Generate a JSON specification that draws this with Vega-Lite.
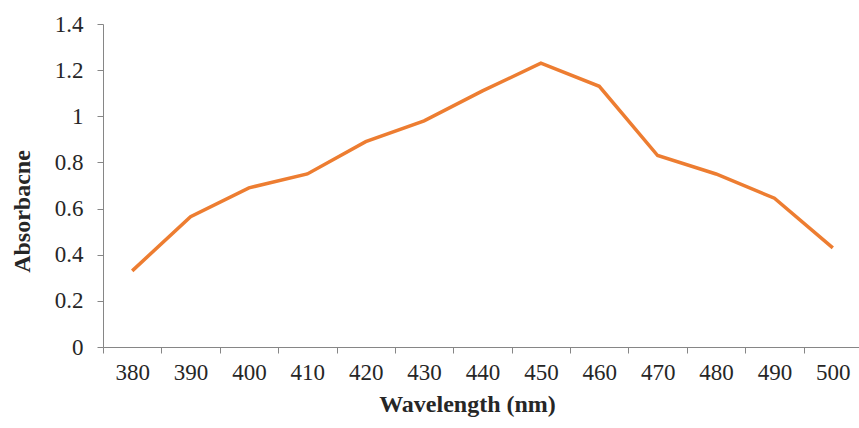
{
  "$schema": "https://vega.github.io/schema/vega-lite/v6.json",
  "autosize": "none",
  "width": 759,
  "height": 323,
  "padding": {"left": 103, "top": 24, "right": 0, "bottom": 81},
  "background": "white",
  "config": {"view": {"stroke": null}},
  "data": {"values": [
    {"wavelength": "380", "absorbance": 0.33},
    {"wavelength": "390", "absorbance": 0.565},
    {"wavelength": "400", "absorbance": 0.69},
    {"wavelength": "410", "absorbance": 0.75},
    {"wavelength": "420", "absorbance": 0.89},
    {"wavelength": "430", "absorbance": 0.98},
    {"wavelength": "440", "absorbance": 1.11},
    {"wavelength": "450", "absorbance": 1.23},
    {"wavelength": "460", "absorbance": 1.13},
    {"wavelength": "470", "absorbance": 0.83},
    {"wavelength": "480", "absorbance": 0.75},
    {"wavelength": "490", "absorbance": 0.645},
    {"wavelength": "500", "absorbance": 0.43}
  ]},
  "mark": {"type": "line", "color": "#ED7D31", "strokeWidth": 3.5},
  "encoding": {
    "x": {
      "field": "wavelength",
      "type": "ordinal",
      "bandPosition": 0.5,
      "scale": {"type": "band", "paddingInner": 0, "paddingOuter": 0},
      "axis": {
        "title": "Wavelength (nm)",
        "labelAngle": 0,
        "tickBand": "extent",
        "domainColor": "#868686",
        "tickColor": "#868686",
        "tickSize": 6,
        "labelPadding": 8,
        "labelFont": "Liberation Serif",
        "labelFontSize": 23,
        "labelColor": "#262626",
        "titleFont": "Liberation Serif",
        "titleFontSize": 24,
        "titleFontWeight": "bold",
        "titleColor": "#262626",
        "titleX": 364,
        "titlePadding": 8
      }
    },
    "y": {
      "field": "absorbance",
      "type": "quantitative",
      "scale": {"domain": [0, 1.4]},
      "axis": {
        "title": "Absorbacne",
        "values": [0, 0.2, 0.4, 0.6, 0.8, 1, 1.2, 1.4],
        "format": "~g",
        "grid": false,
        "domainColor": "#868686",
        "tickColor": "#868686",
        "tickSize": 6,
        "labelPadding": 14,
        "labelFont": "Liberation Serif",
        "labelFontSize": 23,
        "labelColor": "#262626",
        "titleFont": "Liberation Serif",
        "titleFontSize": 24,
        "titleFontWeight": "bold",
        "titleColor": "#262626",
        "titleX": -81,
        "titleY": 187,
        "titleAlign": "center",
        "titleBaseline": "middle"
      }
    }
  }
}
